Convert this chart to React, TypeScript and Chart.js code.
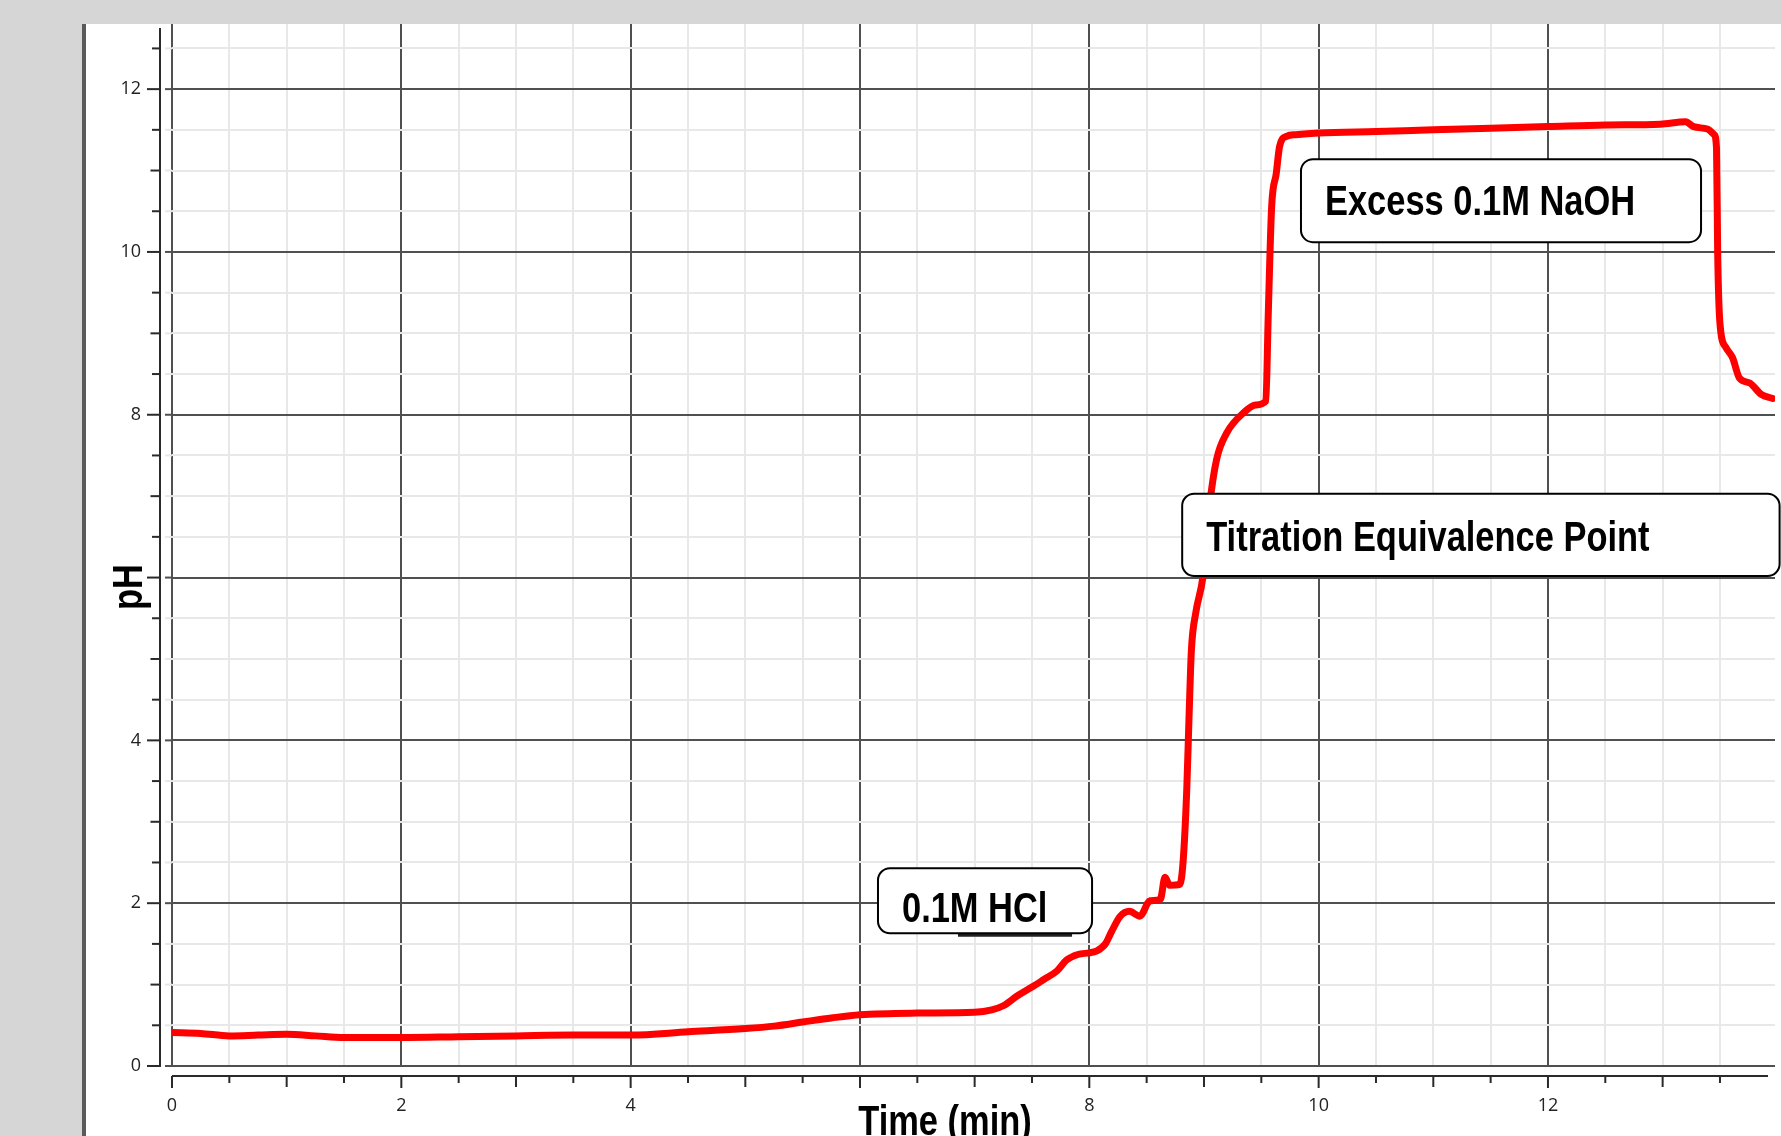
import React, { useEffect, useRef } from 'react';
import { Chart, registerables } from 'chart.js';

Chart.register(...registerables);

// ---- data ----
const timeMin = [
  0.0, 0.25, 0.5, 0.75, 1.0, 1.25, 1.5, 2.0, 2.5, 3.0, 3.5, 4.0, 4.5, 5.0, 5.25, 5.5, 5.75, 6.0,
  6.5, 7.0, 7.15, 7.25, 7.37, 7.5, 7.6, 7.72, 7.8, 7.9, 8.0, 8.06, 8.14, 8.19, 8.27, 8.35, 8.44,
  8.53, 8.62, 8.66, 8.7, 8.79, 8.82, 8.85, 8.87, 8.89, 8.93, 8.99, 9.05, 9.11, 9.2, 9.35, 9.45,
  9.54, 9.56, 9.59, 9.63, 9.66, 9.72, 9.8, 10.0, 10.5, 11.0, 11.5, 12.0, 12.5, 12.98, 13.2, 13.27,
  13.39, 13.45, 13.47, 13.48, 13.5, 13.55, 13.61, 13.67, 13.76, 13.86, 13.96,
];
const pHValues = [
  0.41, 0.4, 0.37, 0.38, 0.39, 0.37, 0.35, 0.35, 0.36, 0.37, 0.38, 0.38, 0.42, 0.46, 0.49, 0.54, 0.59, 0.63,
  0.65, 0.66, 0.69, 0.74, 0.86, 0.97, 1.06, 1.17, 1.3, 1.37, 1.39, 1.41, 1.5, 1.64, 1.84, 1.9, 1.84,
  2.03, 2.05, 2.32, 2.22, 2.23, 2.55, 3.4, 4.3, 5.1, 5.58, 6.0, 6.9, 7.45, 7.78, 8.03, 8.12,
  8.17, 9.2, 10.55, 10.96, 11.3, 11.42, 11.44, 11.46, 11.48, 11.5, 11.52, 11.54, 11.56, 11.57, 11.6, 11.54,
  11.51, 11.44, 11.27, 10.0, 9.12, 8.83, 8.7, 8.45, 8.39, 8.25, 8.2,
];
// "6" labels are hidden under the axis titles in the reference
const xTickLabels = ['0', '2', '4', '8', '10', '12'];
const yTickLabels = ['0', '2', '4', '8', '10', '12'];
const xTitle = 'Time (min)';
const yTitle = 'pH';

// annotation boxes, anchored in data units
const annotationTexts = ['Excess 0.1M NaOH', 'Titration Equivalence Point', '0.1M HCl'];
const annotationBoxes = [
  { x0: 9.846, x1: 13.335, y0: 10.12, y1: 11.14, dy: 14 },
  { x0: 8.81, x1: 14.02, y0: 6.02, y1: 7.03, dy: 16 },
  { x0: 6.157, x1: 8.024, y0: 1.63, y1: 2.43, dy: 21 },
];

const DARK = '#505050';
const LIGHT = '#e8e8e8';
const FONT_BOLD = '"Liberation Sans", Arial, sans-serif';

function condText(ctx: CanvasRenderingContext2D, text: string, x: number, y: number, size: number, align: CanvasTextAlign, sx = 0.82) {
  ctx.save();
  ctx.translate(x, y);
  ctx.scale(sx, 1);
  ctx.font = `bold ${size}px ${FONT_BOLD}`;
  ctx.textAlign = align;
  ctx.textBaseline = 'alphabetic';
  ctx.fillStyle = '#000';
  ctx.fillText(text, 0, 0);
  ctx.restore();
}

function seg(ctx: CanvasRenderingContext2D, x1: number, y1: number, x2: number, y2: number) {
  ctx.beginPath();
  ctx.moveTo(x1, y1);
  ctx.lineTo(x2, y2);
  ctx.stroke();
}

const decorPlugin = {
  id: 'decor',
  beforeDraw(chart: any) {
    const { ctx, width, height } = chart;
    ctx.save();
    ctx.fillStyle = '#d6d6d6';
    ctx.fillRect(0, 0, width, height);
    ctx.fillStyle = '#ffffff';
    ctx.fillRect(86, 24, width - 86, height - 24);
    ctx.fillStyle = '#5a5a5a';
    ctx.fillRect(82, 24, 4, height - 24);
    ctx.restore();
  },
  afterDraw(chart: any) {
    const { ctx, chartArea: area } = chart;
    const xs = chart.scales.x;
    const ys = chart.scales.y;
    ctx.save();
    ctx.lineWidth = 2;
    // grid extension to the left of the plot
    for (let i = 0; i <= 25; i++) {
      const v = i * 0.5;
      const py = ys.getPixelForValue(v);
      ctx.strokeStyle = v % 2 === 0 ? DARK : LIGHT;
      seg(ctx, area.left - 7, py, area.left, py);
    }
    // y axis line + ticks
    ctx.strokeStyle = '#2a2a2a';
    const ax = area.left - 12;
    seg(ctx, ax, 28, ax, ys.getPixelForValue(0) + 1);
    for (let i = 0; i <= 25; i++) {
      const v = i * 0.5;
      const py = ys.getPixelForValue(v);
      const len = v % 2 === 0 ? 13 : v % 1 === 0 ? 9.5 : 8;
      seg(ctx, ax - len, py, ax, py);
    }
    // x axis line + ticks
    const ay = area.bottom + 10;
    seg(ctx, area.left, ay, area.right - 7, ay);
    for (let i = 0; i <= 27; i++) {
      const v = i * 0.5;
      const px = xs.getPixelForValue(v);
      const len = v % 2 === 0 ? 12 : v % 1 === 0 ? 11 : 7;
      seg(ctx, px, ay, px, ay + len);
    }
    // axis titles
    condText(ctx, xTitle, 945, 1135, 42, 'center');
    ctx.save();
    ctx.translate(130, 587);
    ctx.rotate(-Math.PI / 2);
    ctx.scale(0.82, 1);
    ctx.font = `bold 42px ${FONT_BOLD}`;
    ctx.textAlign = 'center';
    ctx.textBaseline = 'middle';
    ctx.fillStyle = '#000';
    ctx.fillText(yTitle, 0, 0);
    ctx.restore();
    // annotation boxes
    annotationBoxes.forEach((b, i) => {
      const l = xs.getPixelForValue(b.x0);
      const r = xs.getPixelForValue(b.x1);
      const t = ys.getPixelForValue(b.y1);
      const btm = ys.getPixelForValue(b.y0);
      if (i === 2) {
        ctx.strokeStyle = '#222';
        ctx.lineWidth = 3;
        seg(ctx, l + 80, btm + 2, r - 20, btm + 2);
      }
      ctx.beginPath();
      ctx.roundRect(l, t, r - l, btm - t, 12);
      ctx.fillStyle = '#ffffff';
      ctx.fill();
      ctx.strokeStyle = '#000';
      ctx.lineWidth = 2;
      ctx.stroke();
      condText(ctx, annotationTexts[i], l + 24, (t + btm) / 2 + b.dy, 42, 'left');
    });
    ctx.restore();
  },
};

export default function App() {
  const ref = useRef<HTMLCanvasElement | null>(null);
  useEffect(() => {
    if (!ref.current) return;
    const chart = new Chart(ref.current, {
      type: 'line',
      data: {
        datasets: [
          {
            data: timeMin.map((t, i) => ({ x: t, y: pHValues[i] })),
            borderColor: '#ff0000',
            borderWidth: 7,
            pointRadius: 0,
            fill: false,
            cubicInterpolationMode: 'monotone',
            borderJoinStyle: 'round',
            borderCapStyle: 'round',
          },
        ],
      },
      options: {
        responsive: false,
        animation: false,
        devicePixelRatio: 1,
        layout: { padding: { top: 24, right: 6, left: 0, bottom: 0 } },
        plugins: { legend: { display: false }, tooltip: { enabled: false }, title: { display: false } },
        scales: {
          x: {
            type: 'linear',
            min: 0,
            max: 13.98,
            afterFit: (s: any) => {
              s.height = 70;
              s.paddingLeft = 0;
              s.paddingRight = 0;
            },
            border: { display: false },
            grid: {
              color: (c: any) => (c.tick && c.tick.value % 2 === 0 ? DARK : LIGHT),
              lineWidth: 2,
              drawTicks: false,
            },
            ticks: {
              stepSize: 0.5,
              autoSkip: false,
              maxRotation: 0,
              includeBounds: false,
              padding: 29,
              color: '#222',
              font: { family: '"Open Sans", sans-serif', size: 18 },
              callback: (v: any) => (xTickLabels.includes(String(v)) ? String(v) : ''),
            },
          },
          y: {
            type: 'linear',
            min: 0,
            max: 12.8,
            afterFit: (s: any) => {
              s.width = 172;
              s.paddingTop = 0;
              s.paddingBottom = 0;
            },
            border: { display: false },
            grid: {
              color: (c: any) => (c.tick && c.tick.value % 2 === 0 ? DARK : LIGHT),
              lineWidth: 2,
              drawTicks: false,
            },
            ticks: {
              stepSize: 0.5,
              autoSkip: false,
              includeBounds: false,
              padding: 31,
              color: '#222',
              font: { family: '"Open Sans", sans-serif', size: 18 },
              callback: (v: any) => (yTickLabels.includes(String(v)) ? String(v) : ''),
            },
          },
        },
      },
      plugins: [decorPlugin],
    } as any);
    return () => chart.destroy();
  }, []);
  return (
    <div style={{ position: 'fixed', left: 0, top: 0, width: 1781, height: 1136 }}>
      <canvas ref={ref} width={1781} height={1136} style={{ display: 'block' }} />
    </div>
  );
}
